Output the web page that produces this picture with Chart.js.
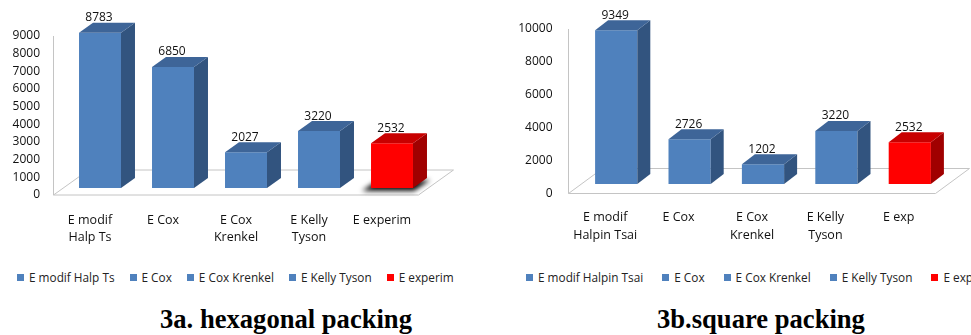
<!DOCTYPE html>
<html>
<head>
<meta charset="utf-8">
<script src="https://cdn.jsdelivr.net/npm/chart.js@4"></script>
<style>
  html, body { margin: 0; padding: 0; background: #fff; overflow: hidden; width: 971px; height: 335px; }
  canvas { position: absolute; top: 0; }
  .legend { position: absolute; top: 270px; display: flex; font: 11.8px "Open Sans"; line-height: 14px; color: #222; white-space: nowrap; }
  .legend .item { display: flex; align-items: center; margin-right: 15px; }
  .legend.wide .item { margin-right: 19px; }
  .legend i { display: inline-block; width: 7px; height: 7px; margin-right: 5px; }
  .caption { position: absolute; top: 306px; font: bold 26.6px "Liberation Serif"; line-height: 26px; color: #000; white-space: nowrap; }
</style>
</head>
<body>
<canvas id="hex" width="485" height="260" style="left:0"></canvas>
<canvas id="sq" width="486" height="260" style="left:485px"></canvas>
<div class="legend" id="legHex" style="left:17px"></div>
<div class="legend wide" id="legSq" style="left:526px"></div>
<div class="caption" style="left:160px">3a. hexagonal packing</div>
<div class="caption" style="left:657px">3b.square packing</div>

<script>
// Hexagonal packing: modulus estimates vs experiment
const hexCategories = [['E modif', 'Halp Ts'], 'E Cox', ['E Cox', 'Krenkel'], ['E Kelly', 'Tyson'], 'E experim'];
const hexLegendNames = ['E modif Halp Ts', 'E Cox', 'E Cox Krenkel', 'E Kelly Tyson', 'E experim'];
const hexValues = [8783, 6850, 2027, 3220, 2532];
const hexTicks = [0, 1000, 2000, 3000, 4000, 5000, 6000, 7000, 8000, 9000];

// Square packing: modulus estimates vs experiment
const sqCategories = [['E modif', 'Halpin Tsai'], 'E Cox', ['E Cox', 'Krenkel'], ['E Kelly', 'Tyson'], 'E exp'];
const sqLegendNames = ['E modif Halpin Tsai', 'E Cox', 'E Cox Krenkel', 'E Kelly Tyson', 'E exp'];
const sqValues = [9349, 2726, 1202, 3220, 2532];
const sqTicks = [0, 2000, 4000, 6000, 8000, 10000];

// Bar styling: four model bars in blue, the measured value in red
const palette = {
  blue: { front: '#4f81bd', top: '#3e6598', side: '#32547f' },
  red:  { front: '#ff0000', top: '#c80000', side: '#a00000' }
};
const barStyles = ['blue', 'blue', 'blue', 'blue', 'red'];
const hexShadow = [false, false, false, false, true];

// Draws the floor, the depth faces of each bar and the value labels
const box3d = {
  id: 'box3d',
  beforeDatasetsDraw(chart, args, o) {
    const { ctx, chartArea: a } = chart;
    ctx.save();
    // floor plane
    ctx.strokeStyle = '#c4c4c4';
    ctx.lineWidth = 1;
    ctx.fillStyle = '#ffffff';
    ctx.beginPath();
    ctx.moveTo(a.left, a.bottom);
    ctx.lineTo(a.right, a.bottom);
    ctx.lineTo(a.right + o.floor.dx, a.bottom + o.floor.dy);
    ctx.lineTo(a.left + o.floor.dx, a.bottom + o.floor.dy);
    ctx.closePath();
    ctx.fill();
    ctx.stroke();
    // value axis line
    ctx.beginPath();
    ctx.moveTo(a.left, a.top);
    ctx.lineTo(a.left, a.bottom);
    ctx.stroke();
    // floor shadows
    const meta = chart.getDatasetMeta(0);
    meta.data.forEach((el, i) => {
      if (!o.shadow || !o.shadow[i]) return;
      const p = el.getProps(['x', 'base', 'width'], true);
      const x0 = p.x - p.width / 2 + o.offX, x1 = p.x + p.width / 2 + o.offX;
      const b = p.base + o.offY;
      ctx.save();
      ctx.filter = 'blur(2.5px)';
      ctx.fillStyle = 'rgba(0,0,0,0.95)';
      ctx.beginPath();
      ctx.moveTo(x0 - 9, b + 3);
      ctx.lineTo(x1 + 1, b + 3);
      ctx.lineTo(x1 + o.depth.dx + 3, b + o.depth.dy + 2);
      ctx.lineTo(x0 + o.depth.dx - 7, b + o.depth.dy + 2);
      ctx.closePath();
      ctx.fill();
      ctx.restore();
    });
    ctx.restore();
    // front faces are drawn by the bar controller, shifted back into the floor
    ctx.save();
    ctx.translate(o.offX, o.offY);
  },
  afterDatasetsDraw(chart, args, o) {
    const { ctx } = chart;
    ctx.restore();
    const meta = chart.getDatasetMeta(0);
    const data = chart.data.datasets[0].data;
    ctx.save();
    meta.data.forEach((el, i) => {
      const p = el.getProps(['x', 'y', 'base', 'width'], true);
      const c = palette[barStyles[i]];
      const x0 = p.x - p.width / 2 + o.offX, x1 = p.x + p.width / 2 + o.offX;
      const t = p.y + o.offY, b = p.base + o.offY;
      const dx = o.depth.dx, dy = o.depth.dy;
      // side face
      ctx.fillStyle = c.side;
      ctx.beginPath();
      ctx.moveTo(x1, t);
      ctx.lineTo(x1 + dx, t + dy);
      ctx.lineTo(x1 + dx, b + dy);
      ctx.lineTo(x1, b);
      ctx.closePath();
      ctx.fill();
      // top face
      ctx.fillStyle = c.top;
      ctx.beginPath();
      ctx.moveTo(x0, t);
      ctx.lineTo(x0 + dx, t + dy);
      ctx.lineTo(x1 + dx, t + dy);
      ctx.lineTo(x1, t);
      ctx.closePath();
      ctx.fill();
      // value label
      ctx.fillStyle = '#111';
      ctx.font = '12px "Open Sans"';
      ctx.textAlign = 'center';
      ctx.textBaseline = 'middle';
      ctx.fillText(String(data[i]), p.x + o.offX - 1, t - 15);
    });
    ctx.restore();
  }
};

function makeChart(id, categories, values, ticksList, geo) {
  return new Chart(document.getElementById(id), {
    type: 'bar',
    data: {
      labels: categories,
      datasets: [{
        data: values,
        backgroundColor: barStyles.map(s => palette[s].front),
        borderWidth: 0,
        barPercentage: 0.575,
        categoryPercentage: 1,
        clip: false
      }]
    },
    options: {
      responsive: false,
      animation: false,
      events: [],
      layout: { padding: { left: 0, right: geo.padRight, top: geo.padTop, bottom: 0 } },
      plugins: { legend: { display: false }, tooltip: { enabled: false }, box3d: geo },
      scales: {
        x: {
          grid: { display: false, drawTicks: false },
          border: { display: false },
          ticks: {
            color: '#111', maxRotation: 0, autoSkip: false, padding: geo.xPad,
            font: { family: 'Open Sans', size: 12.5, lineHeight: geo.xLine }
          },
          afterFit: s => { s.height = geo.xHeight; }
        },
        y: {
          min: 0, max: ticksList[ticksList.length - 1],
          grid: { display: false, drawTicks: false },
          border: { display: false },
          ticks: {
            color: '#111', padding: geo.yPad,
            font: { family: 'Open Sans', size: 12 },
            callback: v => String(v)
          },
          afterBuildTicks: s => { s.ticks = ticksList.map(v => ({ value: v })); },
          afterFit: s => { s.width = geo.yWidth; }
        }
      }
    },
    plugins: [box3d]
  });
}

makeChart('hex', hexCategories, hexValues, hexTicks, {
  padTop: 36, padRight: 66.5, yWidth: 53.5, xHeight: 65, xPad: 16.5, xLine: '17px', yPad: 13.5,
  offX: 10, offY: -7, depth: { dx: 14, dy: -10 }, floor: { dx: 35, dy: -25 }, shadow: hexShadow
});
makeChart('sq', sqCategories, sqValues, sqTicks, {
  padTop: 29, padRight: 35.5, yWidth: 83.5, xHeight: 66.5, xPad: 14.5, xLine: '18px', yPad: 16,
  offX: 11, offY: -9.5, depth: { dx: 13, dy: -10 }, floor: { dx: 34, dy: -25 }, shadow: null
});

// Legends listing each bar with its colour
function buildLegend(id, names) {
  const box = document.getElementById(id);
  names.forEach((name, i) => {
    const item = document.createElement('span');
    item.className = 'item';
    const sw = document.createElement('i');
    sw.style.background = palette[barStyles[i]].front;
    item.appendChild(sw);
    item.appendChild(document.createTextNode(name));
    box.appendChild(item);
  });
}
buildLegend('legHex', hexLegendNames);
buildLegend('legSq', sqLegendNames);
</script>
</body>
</html>
